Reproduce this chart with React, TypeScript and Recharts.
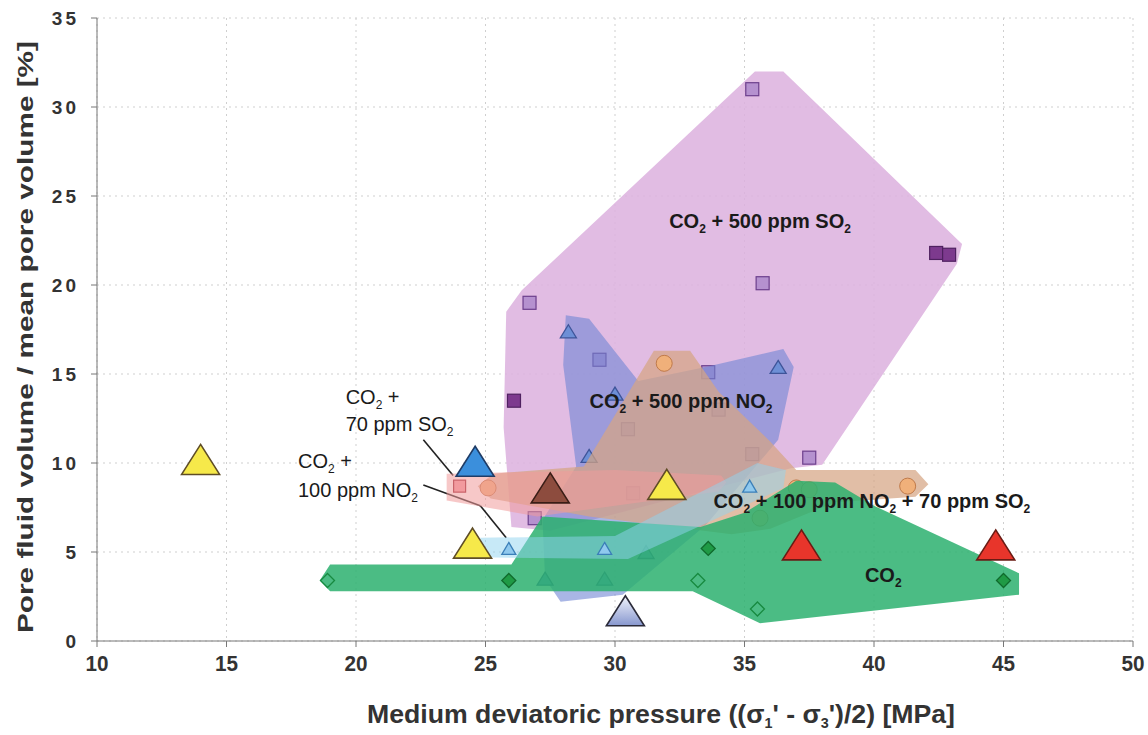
import React from 'react';
import {
  ScatterChart,
  Scatter,
  XAxis,
  YAxis,
  CartesianGrid,
  ReferenceDot,
  ReferenceLine,
} from 'recharts';

const xTicks = [10, 15, 20, 25, 30, 35, 40, 45, 50];
const yTicks = [0, 5, 10, 15, 20, 25, 30, 35];

// CO2 + 500 ppm SO2 (squares)
const so2HighSquares = [
  { x: 35.3, y: 31.0 }, { x: 26.7, y: 19.0 }, { x: 35.7, y: 20.1 }, { x: 29.4, y: 15.8 },
  { x: 33.6, y: 15.1 }, { x: 30.5, y: 11.9 }, { x: 34.0, y: 13.0 }, { x: 35.3, y: 10.5 },
  { x: 37.5, y: 10.3 }, { x: 26.9, y: 6.9 }, { x: 30.7, y: 8.3 },
];
const so2HighDarkSquares = [{ x: 42.4, y: 21.8 }, { x: 42.9, y: 21.7 }, { x: 26.1, y: 13.5 }];
const so2HighHull = [
  { x: 35.4, y: 32.0 }, { x: 36.5, y: 32.0 }, { x: 43.4, y: 22.3 }, { x: 43.2, y: 21.2 },
  { x: 38.0, y: 9.9 }, { x: 36.8, y: 9.7 }, { x: 27.5, y: 6.2 }, { x: 26.0, y: 6.4 },
  { x: 25.7, y: 12.0 }, { x: 25.8, y: 18.5 }, { x: 26.4, y: 19.7 },
];

// CO2 + 500 ppm NO2 (triangles)
const no2HighTriangles = [
  { x: 28.2, y: 17.4 }, { x: 30.0, y: 13.9 }, { x: 36.3, y: 15.4 }, { x: 29.0, y: 10.4 },
  { x: 27.3, y: 3.5 }, { x: 29.6, y: 3.5 }, { x: 31.2, y: 5.0 },
];
const no2HighHull = [
  { x: 28.1, y: 18.3 }, { x: 29.0, y: 18.1 }, { x: 30.9, y: 14.6 }, { x: 33.5, y: 15.4 },
  { x: 36.5, y: 16.4 }, { x: 36.9, y: 15.4 }, { x: 36.3, y: 11.3 }, { x: 33.5, y: 6.5 },
  { x: 30.3, y: 2.6 }, { x: 27.9, y: 2.2 }, { x: 27.3, y: 3.5 }, { x: 27.2, y: 6.8 },
  { x: 28.5, y: 9.8 }, { x: 28.0, y: 15.5 },
];

// CO2 + 100 ppm NO2 + 70 ppm SO2 (circles)
const mixCircles = [
  { x: 25.1, y: 8.6 }, { x: 31.9, y: 15.6 }, { x: 41.3, y: 8.7 }, { x: 37.0, y: 8.6 },
  { x: 37.5, y: 8.5 }, { x: 35.6, y: 6.9 },
];
const mixHull = [
  { x: 31.5, y: 16.3 }, { x: 32.9, y: 16.3 }, { x: 34.0, y: 14.0 }, { x: 36.0, y: 11.2 },
  { x: 37.0, y: 9.6 }, { x: 41.6, y: 9.6 }, { x: 42.1, y: 8.8 }, { x: 41.6, y: 8.1 },
  { x: 38.5, y: 7.8 }, { x: 36.0, y: 6.3 }, { x: 34.5, y: 6.0 }, { x: 29.0, y: 7.0 },
  { x: 25.2, y: 8.0 }, { x: 24.7, y: 8.7 }, { x: 25.3, y: 9.4 }, { x: 28.8, y: 9.8 },
];

// CO2 + 70 ppm SO2 (squares)
const so2LowSquares = [{ x: 24.0, y: 8.7 }];
const so2LowHull = [
  { x: 23.5, y: 9.4 }, { x: 30.0, y: 9.6 }, { x: 34.1, y: 9.3 }, { x: 34.3, y: 8.9 },
  { x: 34.0, y: 8.4 }, { x: 30.0, y: 7.6 }, { x: 27.0, y: 7.0 }, { x: 23.5, y: 7.9 },
];

// CO2 + 100 ppm NO2 (small triangles)
const no2LowTriangles = [{ x: 25.9, y: 5.2 }, { x: 29.6, y: 5.2 }, { x: 35.2, y: 8.7 }];
const no2LowHull = [
  { x: 24.8, y: 5.8 }, { x: 30.0, y: 5.9 }, { x: 35.5, y: 10.0 }, { x: 36.6, y: 9.6 },
  { x: 36.5, y: 8.6 }, { x: 35.0, y: 7.6 }, { x: 30.5, y: 4.6 }, { x: 24.8, y: 4.7 },
];

// CO2 (diamonds)
const co2Filled = [{ x: 25.9, y: 3.4 }, { x: 33.6, y: 5.2 }, { x: 45.0, y: 3.4 }];
const co2Open = [{ x: 18.9, y: 3.4 }, { x: 33.2, y: 3.4 }, { x: 35.5, y: 1.8 }];
const co2Hull = [
  { x: 18.6, y: 3.4 }, { x: 19.0, y: 4.3 }, { x: 26.0, y: 4.3 }, { x: 27.2, y: 7.0 },
  { x: 33.3, y: 6.4 }, { x: 35.0, y: 7.2 }, { x: 37.0, y: 9.0 }, { x: 38.5, y: 8.9 },
  { x: 40.0, y: 7.6 }, { x: 45.6, y: 3.8 }, { x: 45.6, y: 2.6 }, { x: 35.6, y: 1.0 },
  { x: 33.0, y: 2.8 }, { x: 19.0, y: 2.8 },
];

// large single triangles
const bigYellow = [{ x: 14.0, y: 10.2 }, { x: 24.5, y: 5.5 }, { x: 32.0, y: 8.8 }];
const bigBlue = [{ x: 24.6, y: 10.1 }];
const bigBrown = [{ x: 27.5, y: 8.6 }];
const bigRed = [{ x: 37.2, y: 5.4 }, { x: 44.7, y: 5.4 }];
const bigPale = [{ x: 30.4, y: 1.7 }];

// annotation anchors
const leaderSo2 = [{ x: 22.6, y: 11.3 }, { x: 23.75, y: 9.3 }];
const leaderNo2 = [{ x: 22.6, y: 8.76 }, { x: 24.8, y: 7.6 }, { x: 25.8, y: 5.8 }];

const FONT = '"Liberation Sans", Arial, sans-serif';

const none = () => <g />;

const hull = (fill: string, opacity: number) => (p: any) => (
  <polygon
    points={(p.points || []).map((q: any) => `${q.x},${q.y}`).join(' ')}
    fill={fill}
    fillOpacity={opacity}
    stroke="none"
  />
);

const square = (fill: string, stroke: string, s = 13) => (p: any) => (
  <rect x={p.cx - s / 2} y={p.cy - s / 2} width={s} height={s} fill={fill} stroke={stroke} strokeWidth={1.2} />
);

const triangle = (fill: string, stroke: string, w: number, h: number, sw = 1.3) => (p: any) => (
  <polygon
    points={`${p.cx},${p.cy - h / 2} ${p.cx + w / 2},${p.cy + h / 2} ${p.cx - w / 2},${p.cy + h / 2}`}
    fill={fill}
    stroke={stroke}
    strokeWidth={sw}
  />
);

const circle = (fill: string, stroke: string, r = 8) => (p: any) => (
  <circle cx={p.cx} cy={p.cy} r={r} fill={fill} stroke={stroke} strokeWidth={1} />
);

const diamond = (fill: string, stroke: string, r = 7) => (p: any) => (
  <polygon
    points={`${p.cx},${p.cy - r} ${p.cx + r},${p.cy} ${p.cx},${p.cy + r} ${p.cx - r},${p.cy}`}
    fill={fill}
    stroke={stroke}
    strokeWidth={1.3}
  />
);

// "CO_2" -> CO with subscript 2
function chem(text: string, size: number) {
  const parts = text.split(/(_\d)/).filter((s) => s.length);
  const out: React.ReactNode[] = [];
  let shifted = false;
  parts.forEach((s, i) => {
    if (s.startsWith('_')) {
      out.push(
        <tspan key={i} fontSize={size * 0.6} dy={size * 0.25}>
          {s.slice(1)}
        </tspan>
      );
      shifted = true;
    } else {
      out.push(
        <tspan key={i} dy={shifted ? -size * 0.25 : 0}>
          {s}
        </tspan>
      );
      shifted = false;
    }
  });
  return out;
}

const textAt =
  (lines: string[], size: number, weight: string, anchor: 'start' | 'middle' = 'start', lineGap = 27) =>
  (p: any) => (
    <g>
      {lines.map((l, i) => (
        <text
          key={i}
          x={p.cx}
          y={p.cy + i * lineGap}
          fontFamily={FONT}
          fontSize={size}
          fontWeight={weight}
          fill="#1a1a1a"
          textAnchor={anchor}
        >
          {chem(l, size)}
        </text>
      ))}
    </g>
  );

// condensed-looking x tick labels
const XTick = (p: any) => {
  const v = String(p.payload.value);
  return (
    <text
      x={p.x}
      y={p.y + 22}
      textAnchor="middle"
      fontFamily={FONT}
      fontSize={22}
      fontWeight="bold"
      fill="#333"
      textLength={v.length * 11.5}
      lengthAdjust="spacingAndGlyphs"
    >
      {v}
    </text>
  );
};

const XLabel = (props: any) => {
  const vb = props.viewBox;
  return (
    <text
      x={367}
      y={vb.y + 82}
      fontFamily={FONT}
      fontSize={26}
      fontWeight="bold"
      fill="#333"
      textLength={588}
      lengthAdjust="spacingAndGlyphs"
    >
      <tspan>Medium deviatoric pressure ((σ</tspan>
      <tspan fontSize={14} dy={5}>1</tspan>
      <tspan dy={-5}>' - σ</tspan>
      <tspan fontSize={14} dy={5}>3</tspan>
      <tspan dy={-5}>')/2) [MPa]</tspan>
    </text>
  );
};

const YLabel = () => {
  const cy = 337;
  const x = 33;
  return (
    <text
      x={x}
      y={cy}
      transform={`rotate(-90 ${x} ${cy})`}
      textAnchor="middle"
      fontFamily={FONT}
      fontSize={22}
      fontWeight="bold"
      fill="#333"
      textLength={592}
      lengthAdjust="spacingAndGlyphs"
    >
      Pore fluid volume / mean pore volume [%]
    </text>
  );
};

export default function App() {
  return (
    <div style={{ position: 'absolute', left: 0, top: 0, width: 1148, height: 735, background: '#fff' }}>
      <ScatterChart width={1148} height={735} margin={{ top: 18, right: 15, bottom: 0, left: 0 }}>
        <defs>
          <linearGradient id="paleGrad" x1="0" y1="0" x2="0" y2="1">
            <stop offset="0%" stopColor="#f2f4fc" />
            <stop offset="100%" stopColor="#8797cf" />
          </linearGradient>
        </defs>
        <CartesianGrid stroke="#cfcfcf" strokeDasharray="2 4" />
        <XAxis
          type="number"
          dataKey="x"
          domain={[10, 50]}
          ticks={xTicks}
          height={94}
          axisLine={{ stroke: '#777' }}
          tickLine={{ stroke: '#777' }}
          tickSize={6}
          tick={<XTick />}
          label={<XLabel />}
        />
        <YAxis
          type="number"
          dataKey="y"
          domain={[0, 35]}
          ticks={yTicks}
          width={97}
          axisLine={{ stroke: '#777' }}
          tickLine={{ stroke: '#777' }}
          tickSize={6}
          tickMargin={12}
          tick={{ fill: '#333', fontSize: 19, fontWeight: 'bold', fontFamily: FONT, letterSpacing: 3 }}
          label={<YLabel />}
        />

        <Scatter data={so2HighHull} shape={none} line={hull('#dcb0de', 0.85)} lineType="joint" isAnimationActive={false} />
        <Scatter data={so2HighSquares} shape={square('#b591cf', '#6c3f8c')} isAnimationActive={false} />
        <Scatter data={so2HighDarkSquares} shape={square('#7d3a8e', '#4f2160')} isAnimationActive={false} />

        <Scatter data={no2HighHull} shape={none} line={hull('#6f86d4', 0.6)} lineType="joint" isAnimationActive={false} />
        <Scatter data={no2HighTriangles} shape={triangle('#6d8fd6', '#3e5499', 16, 13)} isAnimationActive={false} />

        <Scatter data={mixHull} shape={none} line={hull('#d6a584', 0.72)} lineType="joint" isAnimationActive={false} />
        <Scatter data={mixCircles} shape={circle('#f0b07a', '#c07a4a')} isAnimationActive={false} />

        <Scatter data={so2LowHull} shape={none} line={hull('#f09a9a', 0.55)} lineType="joint" isAnimationActive={false} />
        <Scatter data={so2LowSquares} shape={square('#f29a9e', '#c9636a', 12)} isAnimationActive={false} />

        <Scatter data={co2Hull} shape={none} line={hull('#2cb06e', 0.85)} lineType="joint" isAnimationActive={false} />
        <Scatter data={co2Filled} shape={diamond('#1f9a45', '#0f6a2c')} isAnimationActive={false} />
        <Scatter data={co2Open} shape={diamond('none', '#178a40')} isAnimationActive={false} />

        <Scatter data={no2LowHull} shape={none} line={hull('#8fd4f0', 0.5)} lineType="joint" isAnimationActive={false} />
        <Scatter data={no2LowTriangles} shape={triangle('#8fc9ee', '#3b7fb8', 14, 12)} isAnimationActive={false} />

        <Scatter data={bigYellow} shape={triangle('#f6e94a', '#5f4d26', 38, 30, 1.6)} isAnimationActive={false} />
        <Scatter data={bigBlue} shape={triangle('#3b8fdc', '#1f3c66', 38, 30, 1.6)} isAnimationActive={false} />
        <Scatter data={bigBrown} shape={triangle('#8d4c3e', '#3a1d16', 38, 30, 1.6)} isAnimationActive={false} />
        <Scatter data={bigRed} shape={triangle('#e8352b', '#6a1b14', 38, 30, 1.6)} isAnimationActive={false} />
        <Scatter data={bigPale} shape={triangle('url(#paleGrad)', '#2b2b3a', 38, 30, 1.6)} isAnimationActive={false} />

        <ReferenceLine segment={leaderSo2} stroke="#222" strokeWidth={1.6} />
        <ReferenceLine segment={[leaderNo2[0], leaderNo2[1]]} stroke="#222" strokeWidth={1.6} />
        <ReferenceLine segment={[leaderNo2[1], leaderNo2[2]]} stroke="#222" strokeWidth={1.6} />

        <ReferenceDot x={35.6} y={23.2} r={0} shape={textAt(['CO_2 + 500 ppm SO_2'], 20, 'bold', 'middle')} />
        <ReferenceDot x={32.55} y={13.1} r={0} shape={textAt(['CO_2 + 500 ppm NO_2'], 20, 'bold', 'middle')} />
        <ReferenceDot x={33.8} y={7.5} r={0} shape={textAt(['CO_2 + 100 ppm NO_2 + 70 ppm SO_2'], 20, 'bold')} />
        <ReferenceDot x={39.65} y={3.3} r={0} shape={textAt(['CO_2'], 20, 'bold')} />
        <ReferenceDot x={19.6} y={13.3} r={0} shape={textAt(['CO_2 +', '70 ppm SO_2'], 20, 'normal')} />
        <ReferenceDot x={17.76} y={9.7} r={0} shape={textAt(['CO_2 +', '100 ppm NO_2'], 20, 'normal', 'start', 29)} />
      </ScatterChart>
    </div>
  );
}
